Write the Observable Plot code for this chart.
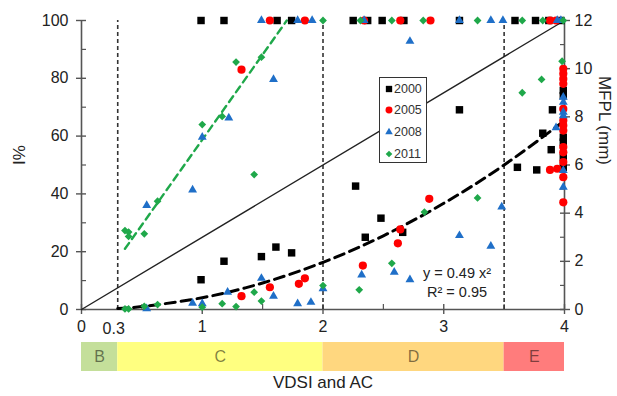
<!DOCTYPE html>
<html><head><meta charset="utf-8">
<script src="https://cdn.jsdelivr.net/npm/d3@7"></script>
<script src="https://cdn.jsdelivr.net/npm/@observablehq/plot@0.6"></script>
<style>
body{margin:0;background:#fff;font-family:"Liberation Sans",Arial,sans-serif;}
#wrap{position:relative;width:617px;height:396px;overflow:hidden;}
#wrap svg{display:block}
#legend{position:absolute;left:379px;top:77px;width:48px;height:86px;border:1.5px solid #333;background:#fff;box-sizing:border-box;}
#legend .row{position:absolute;left:0;height:16px;font-size:12.5px;color:#333;line-height:16px;}
#legend .row svg{position:absolute;left:4px;top:3px;}
#legend .row span{position:absolute;left:14px;top:0;}
</style></head><body><div id="wrap"></div>
<script>
// ---- data ----
const years = ["2000", "2005", "2008", "2011"];

const x2000 = [0.99,1.18,1.62,1.74,2.25,2.37,2.49,2.67,3.13,3.59,3.76,3.87,3.97,
  0.99,1.18,1.49,1.61,1.74,2.27,2.35,2.48,2.66,3.13,3.61,3.77,3.82,3.89,3.90,3.99,3.99,3.99,3.99,3.99,3.99];
const y2000 = [100,100,100,100,100,100,100,100,100,100,100,100,100,
  10.3,16.7,18.3,21.6,19.6,42.7,25.0,31.6,26.7,69.1,49.2,48.3,61.0,55.3,69.1,75.8,74.0,59.6,57.9,52.7,49.2];

const x2005 = [1.56,1.85,2.34,2.64,2.89,3.88,3.93,
  1.325,1.325,1.56,1.80,1.85,2.33,2.62,2.64,2.88,3.88,3.94,
  3.99,3.99,3.99,3.99,3.99,3.99,3.99,3.99,3.99,3.99,3.99,3.99,3.99];
const y2005 = [100,100,100,100,100,100,100,
  83.0,4.6,7.7,8.9,10.8,15.2,22.9,27.7,38.3,48.3,48.7,
  83.3,81.6,79.8,78.1,69.4,65.4,63.7,61.9,56.2,54.4,51.0,45.8,37.1];

const x2008 = [1.49,1.79,1.91,2.34,3.13,3.39,3.49,3.94,3.97,
  0.54,0.92,1.0,1.22,1.59,2.72,
  0.54,0.92,1.0,1.21,1.49,1.59,1.79,1.90,2.0,2.32,2.59,2.72,3.13,3.39,3.48,3.93,
  3.99,3.99,3.99,3.99,3.99,3.99];
const y2008 = [100,100,100,100,100,100,100,100,100,
  36.0,41.4,59.6,66.3,79.6,92.8,
  0.3,2.2,2.0,6.0,10.8,4.6,2.0,2.5,7.2,12.0,12.9,10.3,25.6,21.9,35.5,62.9,
  73.5,71.7,68.3,67.1,48.1,42.3];

const x2011 = [2.0,2.31,2.57,2.83,3.28,3.65,3.82,3.99,
  0.36,0.39,0.39,0.52,0.63,1.0,1.165,1.28,1.49,1.43,
  0.36,0.39,0.52,0.63,1.0,1.165,1.28,1.43,1.49,2.0,2.30,2.57,2.84,3.28,3.65,3.81,3.98];
const y2011 = [100,100,100,100,100,100,100,100,
  27.3,26.8,25.3,26.2,37.5,64.0,66.8,85.6,87.3,46.7,
  0.2,0.2,1.1,1.7,0.8,2.0,1.0,6.0,2.9,8.3,6.8,16.0,33.7,38.6,75.0,79.6,85.9];

// 1:1 reference line (I%)
const refX = [0, 4];
const refY = [0, 100];
// green trend line (2011, I%)
const greenX = [0.36, 1.70];
const greenY = [21, 100];
// fitted curve y = 0.49 x^2 (MFPL, mm)
const fitX = [0.3, 0.5, 1, 1.5, 2, 2.5, 3, 3.5, 4];
const fitMM = [0.04, 0.12, 0.49, 1.1, 1.96, 3.06, 4.41, 6.0, 7.84];

const classLines = [0.3, 2, 3.5];
const bandNames = ["B", "C", "D", "E"];
const bandStart = [0, 0.3, 2, 3.5];
const bandEnd = [0.3, 2, 3.5, 4];

const xTicks = [0, 1, 2, 3, 4];
const xMinor = [0.5, 1.5, 2.5, 3.5];
const extraXLabel = ["0.3"];
const yTicks = [0, 20, 40, 60, 80, 100];
const yMinor = [10, 30, 50, 70, 90];
const mmTicks = [0, 2, 4, 6, 8, 10, 12];
const mmMinor = [1, 3, 5, 7, 9, 11];
const eqLines = ["y = 0.49 x²", "R² = 0.95"];
const eqX = [3.11, 3.11];
const eqY = [12.4, 5.9];

// ---- styles ----
const colors = ["#000000", "#ff0000", "#1f6fc8", "#1fa84a"];
const symbols = ["square", "circle", "triangle", "diamond2"];
const radii = [4.2, 4.1, 3.3, 3.5];
const bandColors = ["#c4df9a", "#ffff80", "#ffd77f", "#ff7c7c"];
const axisColor = "#555";
const FONT = "Liberation Sans, Arial, sans-serif";

const series = [[x2000, y2000], [x2005, y2005], [x2008, y2008], [x2011, y2011]];
const toPts = (xs, ys) => xs.map((v, i) => ({x: v, y: ys[i]}));
const mmToPct = 100 / 12;

const dotMarks = series.map(([xs, ys], i) =>
  Plot.dot(toPts(xs, ys), {x: "x", y: "y", symbol: () => symbols[i], fill: colors[i], r: radii[i], stroke: "none"}));

const main = Plot.plot({
  width: 617, height: 340,
  marginLeft: 81, marginRight: 53, marginTop: 20, marginBottom: 31,
  style: {fontFamily: FONT, color: "#222", background: "#fff", overflow: "visible"},
  x: {domain: [0, 4], axis: null},
  y: {domain: [0, 100], axis: null},
  symbol: {type: "identity"},
  marks: [
    // axis lines
    Plot.ruleX([0, 4], {y1: 0, y2: 100, stroke: axisColor, strokeWidth: 1.6}),
    Plot.ruleY([0], {x1: 0, x2: 4, stroke: axisColor, strokeWidth: 1.6}),
    // left ticks
    Plot.axisY({ticks: yTicks, tickSize: 10, dx: 5, tickFormat: () => "", label: null, stroke: axisColor, strokeWidth: 1.4}),
    Plot.axisY({ticks: yMinor, tickSize: 5, dx: 5, tickFormat: () => "", label: null, stroke: axisColor, strokeWidth: 1.2}),
    Plot.axisY({ticks: yTicks, tickSize: 0, tickPadding: 13, fontSize: 16, fill: "#222", label: null, tickFormat: d => String(d)}),
    // right ticks
    Plot.axisY({anchor: "right", ticks: mmTicks.map(m => m * mmToPct), tickSize: 10, dx: -5, tickFormat: () => "", label: null, stroke: axisColor, strokeWidth: 1.4}),
    Plot.axisY({anchor: "right", ticks: mmMinor.map(m => m * mmToPct), tickSize: 5, dx: -5, tickFormat: () => "", label: null, stroke: axisColor, strokeWidth: 1.2}),
    Plot.axisY({anchor: "right", ticks: mmTicks.map(m => m * mmToPct), tickSize: 0, tickPadding: 10, fontSize: 16, fill: "#222", label: null,
      tickFormat: d => String(Math.round(d / mmToPct))}),
    // bottom ticks
    Plot.axisX({ticks: xTicks, tickSize: 10, dy: -5, tickFormat: () => "", label: null, stroke: axisColor, strokeWidth: 1.4}),
    Plot.axisX({ticks: xMinor, tickSize: 5, dy: -5, tickFormat: () => "", label: null, stroke: axisColor, strokeWidth: 1.2}),
    Plot.axisX({ticks: xTicks, tickSize: 0, tickPadding: 11, fontSize: 16, fill: "#222", label: null, tickFormat: d => String(d)}),
    Plot.text(extraXLabel, {x: d => +d, frameAnchor: "bottom", dy: 24, dx: -4, text: d => d, fontSize: 16, fill: "#222"}),
    // axis titles
    Plot.text(["I%"], {frameAnchor: "left", dx: -62, rotate: -90, text: d => d, fontSize: 17, fill: "#222"}),
    Plot.text(["MFPL (mm)"], {frameAnchor: "right", dx: 40, rotate: 90, text: d => d, fontSize: 17, fill: "#222"}),
    // class boundaries
    Plot.ruleX(classLines, {y1: 0, y2: 100, stroke: "#333", strokeWidth: 1.6, strokeDasharray: "4,3"}),
    // 1:1 line
    Plot.line(toPts(refX, refY), {x: "x", y: "y", stroke: "#222", strokeWidth: 1.4}),
    // green trend
    Plot.line(toPts(greenX, greenY), {x: "x", y: "y", stroke: colors[3], strokeWidth: 2.4, strokeDasharray: "7,5"}),
    // fitted curve
    Plot.line(toPts(fitX, fitMM), {x: "x", y: d => d.y * mmToPct, curve: "natural", stroke: "#000", strokeWidth: 3, strokeDasharray: "10,6"}),
    ...dotMarks,
    // equation
    Plot.text(eqLines, {x: (d, i) => eqX[i], y: (d, i) => eqY[i], text: d => d, fontSize: 14.5, fill: "#222"})
  ]
});

const band = Plot.plot({
  width: 617, height: 56,
  marginLeft: 81, marginRight: 53, marginTop: 2, marginBottom: 25,
  style: {fontFamily: FONT, background: "#fff", overflow: "visible"},
  x: {domain: [0, 4], axis: null},
  y: {domain: [0, 1], axis: null},
  color: {domain: bandNames, range: bandColors},
  marks: [
    Plot.rect(bandNames, {x1: (d, i) => bandStart[i], x2: (d, i) => bandEnd[i], y1: 0, y2: 1, fill: d => d}),
    Plot.text(bandNames, {x: (d, i) => (bandStart[i] + bandEnd[i]) / 2, y: 0.5, text: d => d, fontSize: 16, fill: "#000", fillOpacity: 0.5}),
    Plot.text(["VDSI and AC"], {frameAnchor: "bottom", dy: 16, text: d => d, fontSize: 17, fill: "#222"})
  ]
});

const wrap = document.getElementById("wrap");
wrap.appendChild(main);
wrap.appendChild(band);

// legend
const legend = document.createElement("div");
legend.id = "legend";
const d3Syms = [d3.symbolSquare, d3.symbolCircle, d3.symbolTriangle, d3.symbolDiamond2 || d3.symbolDiamond];
const rowTops = [3, 24, 46, 68];
years.forEach((yr, i) => {
  const row = document.createElement("div");
  row.className = "row";
  row.style.top = rowTops[i] + "px";
  const s = d3.create("svg").attr("width", 10).attr("height", 10);
  s.append("path").attr("transform", "translate(5,5)")
    .attr("d", d3.symbol(d3Syms[i], Math.PI * (radii[i] * 0.85) ** 2)())
    .attr("fill", colors[i]);
  row.appendChild(s.node());
  const t = document.createElement("span");
  t.textContent = yr;
  row.appendChild(t);
  legend.appendChild(row);
});
wrap.appendChild(legend);
</script>
</body></html>
